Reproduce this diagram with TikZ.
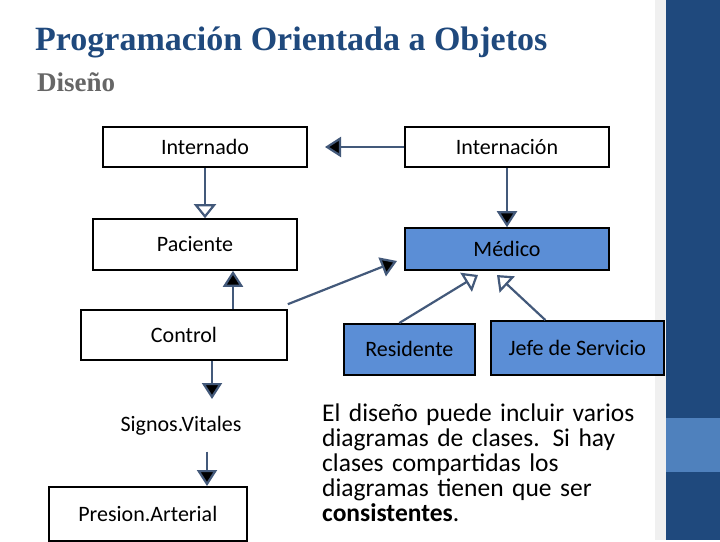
\documentclass[tikz,border=0pt]{standalone}
\usepackage{fontspec}
\setmainfont{Carlito}
\newfontfamily\titlefont{Liberation Serif}
\usetikzlibrary{arrows.meta}
\definecolor{dblue}{HTML}{1F497D}
\definecolor{lblue}{HTML}{4F81BD}
\definecolor{mblue}{HTML}{5B8ED6}
\definecolor{conn}{HTML}{43597A}
\begin{document}
\begin{tikzpicture}[x=1pt,y=-1pt,
 box/.style={draw=black,line width=1.6pt,minimum height=#1,inner sep=0pt,font=\fontsize{22}{26}\selectfont},
 cn/.style={draw=conn,line width=2.2pt},
 ft/.style={-{Triangle[length=16pt,width=20pt,fill=black]}},
 ot/.style={-{Triangle[open,length=14pt,width=22pt,fill=white]}}]
\fill[white] (0,0) rectangle (720,540);
\fill[gray!12] (655,0) rectangle (666,540);
\fill[dblue] (666,0) rectangle (720,540);
\fill[lblue] (666,418) rectangle (720,472);
\node[anchor=west,text=dblue,font=\titlefont\bfseries\fontsize{34}{38}\selectfont,inner sep=0pt] (t) at (35,42) {Programación Orientada a Objetos};
\node[anchor=west,text=gray!80!black,font=\titlefont\bfseries\fontsize{27}{30}\selectfont,inner sep=0pt] (d) at (37,82) {Diseño};
\node[box=40pt,minimum width=204pt] (int) at (205,147) {Internado};
\node[box=40pt,minimum width=204pt] (inc) at (507,147) {Internación};
\node[box=51pt,minimum width=204pt] (pac) at (195,244.5) {Paciente};
\node[box=42pt,minimum width=204pt,fill=mblue] (med) at (507,249) {Médico};
\node[box=50pt,minimum width=206pt] (con) at (184,335) {Control};
\node[box=51pt,minimum width=131pt,fill=mblue,anchor=north west] (res) at (343,323) {\raisebox{-6pt}{Residente}};
\node[box=54pt,minimum width=173pt,fill=mblue,anchor=north west] (jef) at (490,320) {Jefe de Servicio};
\node[minimum height=51pt,minimum width=181pt,inner sep=0pt,font=\fontsize{22}{26}\selectfont] (sig) at (181,426) {Signos.Vitales};
\node[box=54pt,minimum width=198pt,anchor=north west] (pre) at (48,486) {Presion.Arterial};
\draw[cn,ft] (inc.west) -- (int.east -| 325,0);
\draw[cn,ot] (int.south) -- (int.south |- pac.north);
\draw[cn,ft] (inc.south) -- (inc.south |- med.north);
\draw[cn,ft] (con.north -| 233,0) -- (pac.south -| 233,0);
\draw[cn,ft] (con.north east) ++(0,-5) coordinate (c1) (c1) -- (397,261);
\draw[cn,ot] (res.north) ++(-10,0) coordinate (r1) (r1) -- (478,275);
\draw[cn,ot] (jef.north) ++(-32,0) coordinate (j1) (j1) -- (497,275);
\draw[cn,ft] (con.south -| 212,0) -- (212,399);
\draw[cn,ft] (sig.south -| 207,0) -- (pre.north -| 207,0);
\node[anchor=north west,align=left,text width=340pt,font=\fontsize{25.5}{25}\selectfont,inner sep=0pt] (txt) at (322,404)
 {El diseño puede incluir varios\\diagramas de clases. Si hay\\clases compartidas los\\diagramas tienen que ser\\\textbf{consistentes}.};
\end{tikzpicture}
\end{document}
